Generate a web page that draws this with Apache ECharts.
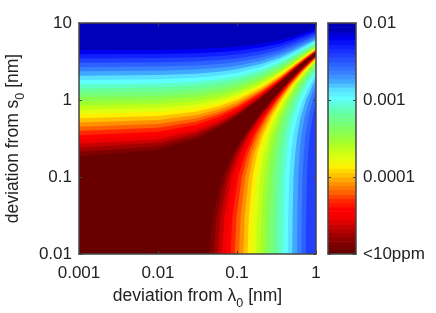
<!DOCTYPE html>
<html><head><meta charset="utf-8">
<style>html,body{margin:0;padding:0;background:#fff}#c{width:436px;height:313px}</style>
<script src="https://cdn.jsdelivr.net/npm/echarts@6/dist/echarts.min.js"></script>
</head><body><div id="c"></div>
<script>
const xTicks = ['0.001','0.01','0.1','1'];
const yTicks = ['0.01','0.1','1','10'];
const barTicks = ['<10ppm','0.0001','0.001','0.01'];
const upperX = [0.001,0.01,0.03,0.06,0.1,0.2,0.35,0.5,0.7,1];
const lowerY = [3.2,2.4,1.6,1,0.6,0.35,0.2,0.1,0.03,0.01];
const bandColors = ['#680000','#800000','#a00000','#c80000','#f00000','#ff0000','#ff2800','#ff6000','#ff9000','#ffc000','#fff000','#e0ff10','#c0ff18','#a0ff30','#88ff50','#78ff78','#68ff98','#60ffc8','#60ffff','#58e0ff','#40a8ff','#3880ff','#2c60ff','#2040ff','#1020ff','#0000f0','#0000b8'];
const upperArm = [
[.186,.225,.311,.44,.612,1.04,1.68,2.33,3.13,4.18],
[.211,.25,.336,.465,.637,1.07,1.71,2.36,3.16,4.21],
[.239,.278,.364,.493,.665,1.1,1.74,2.39,3.19,4.24],
[.271,.31,.396,.525,.697,1.13,1.77,2.42,3.22,4.27],
[.307,.346,.432,.561,.733,1.16,1.8,2.45,3.25,4.3],
[.349,.388,.474,.603,.775,1.21,1.85,2.5,3.3,4.35],
[.397,.436,.522,.651,.823,1.25,1.89,2.54,3.34,4.39],
[.45,.489,.575,.704,.876,1.31,1.95,2.6,3.4,4.45],
[.511,.55,.636,.765,.937,1.37,2.01,2.66,3.46,4.51],
[.579,.618,.704,.833,1.01,1.44,2.08,2.73,3.53,4.58],
[.659,.698,.784,.913,1.09,1.52,2.16,2.81,3.61,4.66],
[.748,.787,.873,1.0,1.17,1.6,2.24,2.89,3.69,4.74],
[.849,.888,.974,1.1,1.28,1.71,2.35,3.0,3.8,4.85],
[.965,1.0,1.09,1.22,1.39,1.82,2.46,3.11,3.91,4.96],
[1.09,1.13,1.22,1.35,1.52,1.95,2.59,3.24,4.04,5.09],
[1.24,1.28,1.37,1.5,1.67,2.1,2.74,3.39,4.19,5.24],
[1.41,1.45,1.54,1.67,1.84,2.27,2.91,3.56,4.36,5.41],
[1.6,1.64,1.73,1.86,2.03,2.46,3.1,3.75,4.55,5.6],
[1.82,1.86,1.95,2.08,2.25,2.68,3.32,3.97,4.77,5.82],
[2.07,2.11,2.2,2.33,2.5,2.93,3.57,4.22,5.02,6.07],
[2.36,2.4,2.49,2.62,2.79,3.22,3.86,4.51,5.31,6.36],
[2.68,2.72,2.81,2.94,3.11,3.54,4.18,4.83,5.63,6.68],
[3.04,3.08,3.17,3.3,3.47,3.9,4.54,5.19,5.99,7.04],
[3.46,3.5,3.59,3.72,3.89,4.32,4.96,5.61,6.41,7.46],
[3.93,3.97,4.06,4.19,4.36,4.79,5.43,6.08,6.88,7.93],
[4.47,4.51,4.6,4.73,4.9,5.33,5.97,6.62,7.42,8.47]];
const rightEdgeY = [3.82,3.79,3.77,3.73,3.7,3.66,3.61,3.55,3.49,3.43,3.35,3.26,3.16,3.04,2.91,2.76,2.59,2.4,2.18,1.93,1.64,1.32,.96,.01,.01,.01];
const N = null;
const lowerArm = [
[.823,.608,.414,.274,.182,.124,.0888,.0656,.0493,.0447],
[.831,.615,.421,.281,.188,.13,.0947,.0714,.0551,.0505],
[.84,.623,.428,.288,.194,.136,.101,.0779,.0616,.057],
[.849,.63,.435,.295,.202,.143,.109,.0853,.0691,.0644],
[.857,.638,.442,.302,.21,.152,.117,.0937,.0774,.0728],
[.871,.65,.453,.314,.22,.162,.127,.103,.0872,.0826],
[.883,.66,.463,.323,.231,.173,.138,.115,.0984,.0937],
[.9,.675,.477,.337,.244,.185,.15,.127,.111,.106],
[.917,.69,.491,.351,.258,.199,.164,.141,.125,.12],
[.937,.709,.508,.367,.274,.215,.18,.157,.141,.136],
[.96,.731,.528,.386,.293,.233,.199,.176,.159,.155],
[.983,.754,.548,.405,.312,.254,.22,.196,.18,.175],
[N,.786,.575,.43,.337,.279,.244,.22,.203,.199],
[N,.817,.603,.456,.363,.305,.27,.247,.23,.226],
[N,.854,.635,.486,.393,.335,.3,.277,.26,.256],
[N,.897,.673,.523,.428,.37,.335,.312,.295,.291],
[N,.946,.717,.565,.467,.409,.374,.351,.335,.33],
[N,N,.78,.62,.52,.46,.43,.405,.39,.385],
[N,N,.845,.68,.58,.515,.48,.46,.445,.44],
[N,N,.915,.745,.64,.58,.545,.52,.505,.5],
[N,N,.989,.825,.715,.655,.62,.595,.58,.575],
[N,N,N,.915,.805,.735,.7,.675,.66,.655],
[N,N,N,N,.905,.835,.795,.77,.75,.745],
[N,N,N,N,N,N,N,N,N,N],
[N,N,N,N,N,N,N,N,N,N],
[N,N,N,N,N,N,N,N,N,N]];

const xMin = 0.001, xMax = 1, yMin = 0.01, yMax = 10;
function contourPoints(i){
  const pts = [[xMin,yMin]];
  upperX.forEach((x,j)=>pts.push([x,upperArm[i][j]]));
  pts.push([xMax,rightEdgeY[i]]);
  lowerY.forEach((y,j)=>{ if(lowerArm[i][j]!==null) pts.push([lowerArm[i][j],y]); });
  return pts;
}
const fieldItems = [{value:[xMin,yMin],level:-1}];
for(let i=upperArm.length-1;i>=0;i--) fieldItems.push({value:[xMin,yMin],level:i});
function renderField(params,api){
  const lvl = fieldItems[params.dataIndex].level;
  const pts = lvl<0 ? [[xMin,yMin],[xMin,yMax],[xMax,yMax],[xMax,yMin]] : contourPoints(lvl);
  return {type:'polygon',shape:{points:pts.map(p=>api.coord(p))},
    style:{fill:bandColors[lvl<0?bandColors.length-1:lvl]}};
}
// colour bar: two steps per band, from 10 ppm to 0.01 on the log axis
const barLogMin=-5, barLogMax=-2, barSteps=bandColors.length*2;
const barItems=[];
for(let j=0;j<barSteps;j++){
  const a=Math.pow(10,barLogMin+(barLogMax-barLogMin)*j/barSteps);
  const b=Math.pow(10,barLogMin+(barLogMax-barLogMin)*(j+1)/barSteps);
  barItems.push({value:[0,a,b]});
}
function renderBar(params,api){
  const j=params.dataIndex, d=barItems[j].value;
  const k=j/2, lo=Math.floor(k), hi=Math.min(lo+1,bandColors.length-1);
  const fill = j%2 ? echarts.color.lerp(0.5,[bandColors[lo],bandColors[hi]]) : bandColors[lo];
  const p0=api.coord([0,d[1]]), p1=api.coord([1,d[2]]);
  return {type:'rect',shape:{x:p0[0],y:p1[1],width:p1[0]-p0[0],height:p0[1]-p1[1]+0.6},style:{fill}};
}
const font='"Liberation Sans",Arial,sans-serif', ink='#222', lineC='#444';
const line={show:true,onZero:false,lineStyle:{color:lineC,width:1.5}};
const tick={show:true,inside:true,length:3,lineStyle:{color:lineC,width:1}};
const lab={fontFamily:font,fontSize:17,color:ink};
const nameRich={n:{fontFamily:font,fontSize:17.5,color:ink},s:{fontFamily:font,fontSize:12.5,color:ink,padding:[14,0,0,0]}};
const logIdx=v=>Math.round(Math.log10(v));
const silent={axisLabel:{show:false},splitLine:{show:false},minorTick:{show:false}};
const chart=echarts.init(document.getElementById('c'),null,{renderer:'canvas'});
chart.setOption({
  animation:false,
  backgroundColor:'#fff',
  grid:[{left:79,top:23,width:237,height:231,outerBoundsMode:'none'},{left:328,top:23,width:28,height:231,outerBoundsMode:'none'}],
  xAxis:[
   {type:'log',logBase:10,gridIndex:0,position:'bottom',min:xMin,max:xMax,z:10,axisLine:line,axisTick:tick,splitLine:{show:false},
    axisLabel:{...lab,margin:11,showMinLabel:true,showMaxLabel:true,hideOverlap:false,formatter:v=>xTicks[logIdx(v)+3]},
    name:'{n|deviation from λ}{s|0}{n| [nm]}',nameLocation:'middle',nameGap:29,nameTextStyle:{rich:nameRich}},
   {type:'log',logBase:10,gridIndex:0,position:'top',min:xMin,max:xMax,z:10,axisLine:line,axisTick:tick,...silent},
   {type:'value',gridIndex:1,position:'bottom',min:0,max:1,z:10,axisLine:line,axisTick:{show:false},...silent},
   {type:'value',gridIndex:1,position:'top',min:0,max:1,z:10,axisLine:line,axisTick:{show:false},...silent}
  ],
  yAxis:[
   {type:'log',logBase:10,gridIndex:0,position:'left',min:yMin,max:yMax,z:10,axisLine:line,axisTick:tick,splitLine:{show:false},
    axisLabel:{...lab,margin:7,padding:[3,0,0,0],showMinLabel:true,showMaxLabel:true,hideOverlap:false,formatter:v=>yTicks[logIdx(v)+2]},
    name:'{n|deviation from s}{s|0}{n| [nm]}',nameLocation:'middle',nameGap:52,nameTextStyle:{rich:nameRich}},
   {type:'log',logBase:10,gridIndex:0,position:'right',min:yMin,max:yMax,z:10,axisLine:line,axisTick:tick,...silent},
   {type:'log',logBase:10,gridIndex:1,position:'right',min:1e-5,max:1e-2,z:10,axisLine:line,axisTick:tick,splitLine:{show:false},
    axisLabel:{...lab,margin:7,padding:[3,0,0,0],showMinLabel:true,showMaxLabel:true,hideOverlap:false,formatter:v=>barTicks[logIdx(v)+5]}},
   {type:'log',logBase:10,gridIndex:1,position:'left',min:1e-5,max:1e-2,z:10,axisLine:line,axisTick:tick,...silent}
  ],
  series:[
   {type:'custom',xAxisIndex:0,yAxisIndex:0,clip:true,silent:true,data:fieldItems,renderItem:renderField,encode:{x:0,y:1}},
   {type:'custom',xAxisIndex:2,yAxisIndex:2,clip:true,silent:true,data:barItems,renderItem:renderBar,encode:{x:0,y:1}}
  ]
});
</script></body></html>
